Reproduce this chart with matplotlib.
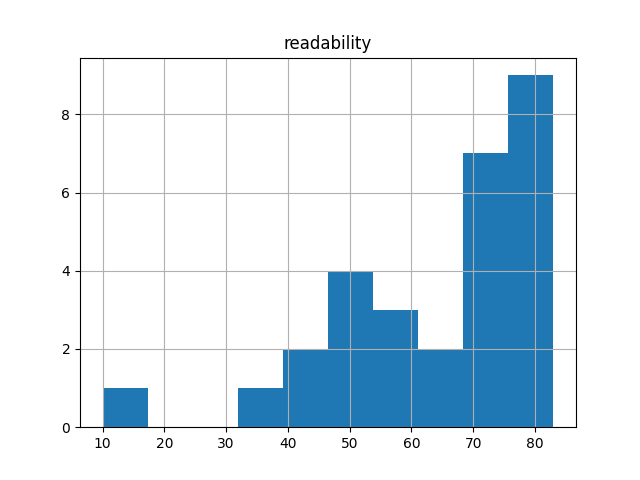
import matplotlib
matplotlib.use("Agg")
import matplotlib.pyplot as plt

title = "readability"
readability = [10.0,
               32.5,
               40.0, 44.0,
               47.0, 49.0, 51.0, 53.0,
               55.0, 57.0, 59.0,
               62.0, 66.0,
               69.0, 70.0, 71.0, 72.0, 73.0, 74.0, 75.0,
               76.0, 77.0, 78.0, 79.0, 80.0, 80.5, 81.0, 82.0, 83.0]

fig, ax = plt.subplots(figsize=(6.4, 4.8), dpi=100)
ax.hist(readability, bins=10)
ax.grid(True)
ax.set_title(title)
fig.savefig("out.png")
